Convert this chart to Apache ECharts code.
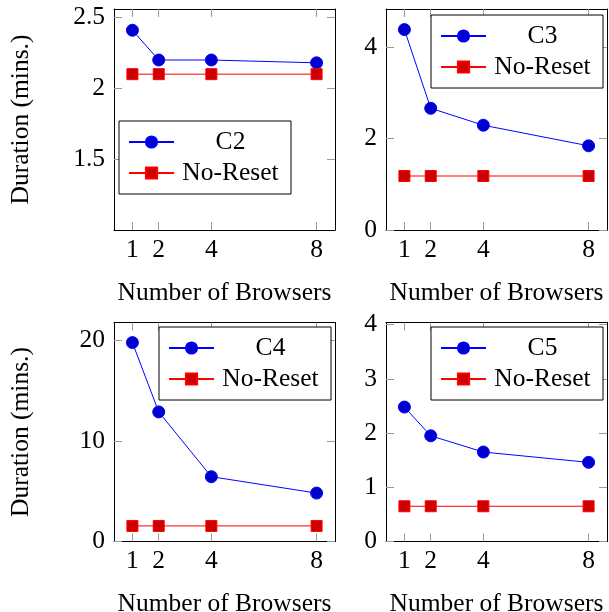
<!DOCTYPE html>
<html>
<head>
<meta charset="utf-8">
<script src="https://cdn.jsdelivr.net/npm/echarts@6/dist/echarts.min.js"></script>
<style>
  html, body { margin: 0; padding: 0; background: #fff; }
  #chart { width: 609px; height: 612px; }
</style>
</head>
<body>
<div id="chart"></div>
<script>
// 数据：浏览器数量与各配置的耗时（分钟）
const browsers = [1, 2, 4, 8];
const seriesNames = ['C2', 'C3', 'C4', 'C5'];
const c2 = [2.41, 2.2, 2.2, 2.18];
const c3 = [4.38, 2.66, 2.29, 1.84];
const c4 = [19.8, 12.9, 6.45, 4.82];
const c5 = [2.48, 1.95, 1.65, 1.46];
const noReset2 = [2.1, 2.1, 2.1, 2.1];
const noReset3 = [1.18, 1.18, 1.18, 1.18];
const noReset4 = [1.55, 1.55, 1.55, 1.55];
const noReset5 = [0.65, 0.65, 0.65, 0.65];
const yTicks2 = [1.5, 2, 2.5];
const yTicks3 = [0, 2, 4];
const yTicks4 = [0, 10, 20];
const yTicks5 = [0, 1, 2, 3, 4];

const FONT = 'Liberation Serif';
const FS = 25.5;

// 每个子图的布局
const panels = [
  { c: c2, nr: noReset2, ticks: yTicks2, ymin: 1, ymax: 2.56, left: 114, top: 9, h: 221, lg: [119, 121], yName: true, xGap: 50 },
  { c: c3, nr: noReset3, ticks: yTicks3, ymin: 0, ymax: 4.83, left: 386, top: 9, h: 221, lg: [431, 15], yName: false, xGap: 50 },
  { c: c4, nr: noReset4, ticks: yTicks4, ymin: 0, ymax: 21.8, left: 114, top: 322.5, h: 219, lg: [159, 327], yName: true, xGap: 50 },
  { c: c5, nr: noReset5, ticks: yTicks5, ymin: 0, ymax: 4.04, left: 386, top: 322.5, h: 219, lg: [431, 327], yName: false, xGap: 50 }
];

const pairs = (ys) => browsers.map((x, i) => [x, ys[i]]);

const option = { animation: false, grid: [], xAxis: [], yAxis: [], legend: [], series: [] };

panels.forEach((p, i) => {
  // 关闭 v6 的 outerBounds 自动收缩，保持网格位置固定
  option.grid.push({ left: p.left, top: p.top, width: 221, height: p.h, outerBoundsMode: 'none' });
  const line = { show: true, onZero: false, lineStyle: { color: '#000', width: 1 } };
  const tick = { show: true, inside: true, length: 8, lineStyle: { color: '#999' } };
  // 下方 x 轴 + 上方镜像 x 轴
  option.xAxis.push({
    type: 'value', gridIndex: i, min: 0.3, max: 8.7, position: 'bottom',
    axisLine: line, splitLine: { show: false },
    axisTick: Object.assign({ customValues: browsers }, tick),
    axisLabel: { customValues: browsers, margin: 7, color: '#000', fontFamily: FONT, fontSize: FS },
    name: 'Number of Browsers', nameLocation: 'middle', nameGap: p.xGap,
    nameTextStyle: { color: '#000', fontFamily: FONT, fontSize: FS }
  });
  option.xAxis.push({
    type: 'value', gridIndex: i, min: 0.3, max: 8.7, position: 'top',
    axisLine: line, splitLine: { show: false },
    axisTick: Object.assign({ customValues: browsers }, tick),
    axisLabel: { show: false }
  });
  // 左侧 y 轴 + 右侧镜像 y 轴
  option.yAxis.push({
    type: 'value', gridIndex: i, min: p.ymin, max: p.ymax, position: 'left',
    axisLine: line, splitLine: { show: false },
    axisTick: Object.assign({ customValues: p.ticks }, tick),
    axisLabel: { customValues: p.ticks, margin: 9, color: '#000', fontFamily: FONT, fontSize: FS },
    name: p.yName ? 'Duration (mins.)' : '', nameLocation: 'middle', nameGap: 80,
    nameTextStyle: { color: '#000', fontFamily: FONT, fontSize: FS }
  });
  option.yAxis.push({
    type: 'value', gridIndex: i, min: p.ymin, max: p.ymax, position: 'right',
    axisLine: line, splitLine: { show: false },
    axisTick: Object.assign({ customValues: p.ticks }, tick),
    axisLabel: { show: false }
  });

  const cName = seriesNames[i];
  const nrName = 'No-Reset' + '\u200b'.repeat(i); // 每个图例独立的名称
  option.series.push({
    name: cName, type: 'line', xAxisIndex: 2 * i, yAxisIndex: 2 * i, data: pairs(p.c),
    symbol: 'circle', symbolSize: 12,
    lineStyle: { color: '#0000ff', width: 1 },
    itemStyle: { color: '#0000cc', borderColor: '#0000ff', borderWidth: 1 }
  });
  option.series.push({
    name: nrName, type: 'line', xAxisIndex: 2 * i, yAxisIndex: 2 * i, data: pairs(p.nr),
    symbol: 'rect', symbolSize: 11,
    lineStyle: { color: '#ff0000', width: 1 },
    itemStyle: { color: '#cc0000', borderColor: '#ff0000', borderWidth: 1 }
  });
  option.legend.push({
    data: [cName, nrName], orient: 'vertical', left: p.lg[0], top: p.lg[1],
    padding: [8, 9, 8, 9], itemGap: 5, itemWidth: 45, itemHeight: 14,
    backgroundColor: '#fff', borderColor: '#000', borderWidth: 1, borderRadius: 0,
    selectedMode: false,
    formatter: (name) => '{t|' + name.replace(/\u200b/g, '') + '}',
    textStyle: {
      rich: { t: { width: 103, align: 'center', color: '#000', fontFamily: FONT, fontSize: FS, lineHeight: 25 } }
    }
  });
});

const chart = echarts.init(document.getElementById('chart'));
chart.setOption(option);
</script>
</body>
</html>
